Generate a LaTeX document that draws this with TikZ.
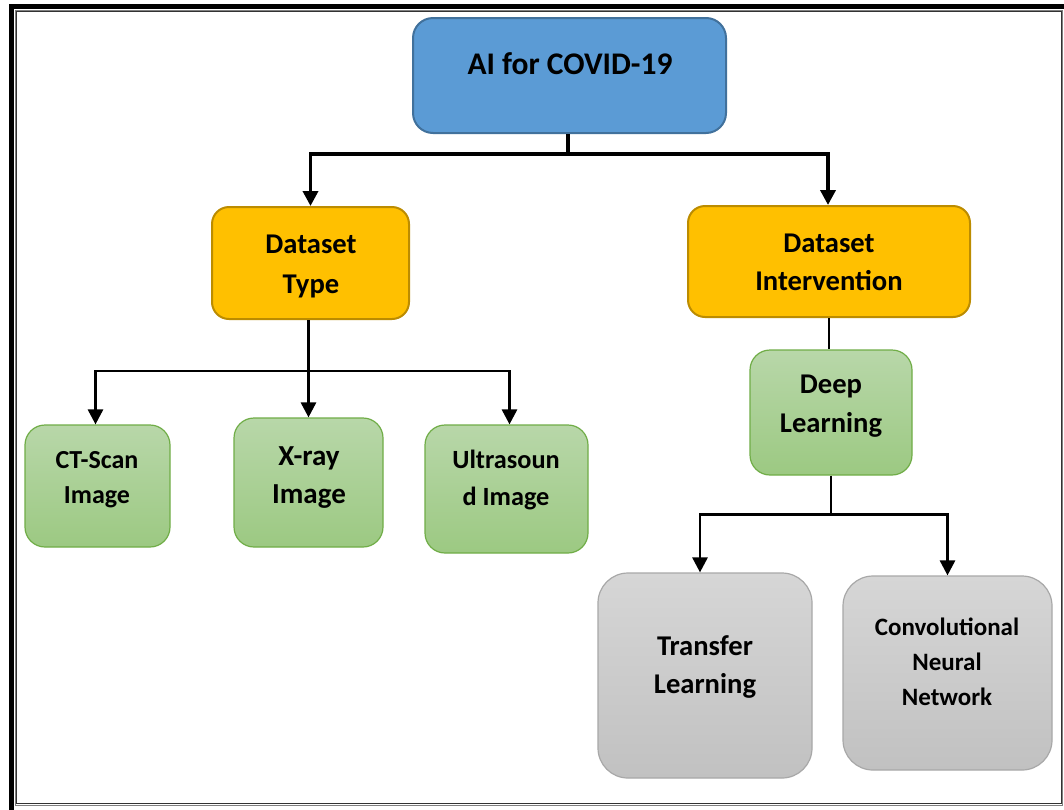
\documentclass[tikz,border=0pt]{standalone}
\usepackage{fontspec}
\setmainfont{Carlito}
\usetikzlibrary{arrows.meta,calc}

\definecolor{titleblue}{HTML}{5B9BD5}
\definecolor{titleedge}{HTML}{41719C}
\definecolor{gold}{HTML}{FFC000}
\definecolor{goldedge}{HTML}{BC8C00}
\definecolor{greentop}{RGB}{184,215,169}
\definecolor{greenbot}{RGB}{156,201,130}
\definecolor{greenedge}{HTML}{70AD47}
\definecolor{graytop}{RGB}{214,214,214}
\definecolor{graybot}{RGB}{193,193,193}
\definecolor{grayedge}{RGB}{168,168,168}

% fixed-height strut so every text line has the same extent
\newcommand\lnstrut{\rule[-0.3em]{0pt}{1.1em}}

\tikzset{
  box/.style={rectangle, inner sep=0pt},
  bluebox/.style={box, fill=titleblue, draw=titleedge, line width=2pt, rounded corners=20pt},
  goldbox/.style={box, fill=gold, draw=goldedge, line width=2pt, rounded corners=17pt},
  greenbox/.style={box, top color=greentop, bottom color=greenbot, draw=greenedge, line width=1.2pt, rounded corners=20pt},
  graybox/.style={box, top color=graytop, bottom color=graybot, draw=grayedge, line width=1.2pt, rounded corners=30pt},
  lbl/.style={inner sep=0pt, align=center},
  link/.style={line width=3.6pt, line join=miter},
  arr/.style={link, -{Triangle[width=15pt,length=15pt]}},
  link2/.style={line width=2.8pt, line join=miter},
  arr2/.style={link2, -{Triangle[width=15pt,length=15pt]}},
}

\begin{document}
\begin{tikzpicture}[x=1pt, y=-1pt]
\useasboundingbox (0,0) rectangle (1064,809);
\clip (0,0) rectangle (1064,809);
\fill[white] (0,0) rectangle (1064,809);

% page frame: heavy outer rule and thin inner rule
\draw[line width=5pt] (11.5,6.5) rectangle (1080,830);
\draw[line width=1pt, gray] (15.2,10.2) rectangle (1062.8,805);
\draw[line width=1.3pt, black!80] (16.8,11.6) rectangle (1061.3,803.4);

% boxes
\node[bluebox,  minimum width=313pt, minimum height=115pt] (ai) at (569.5,75.5) {};
\node[goldbox,  minimum width=197pt, minimum height=112pt] (dt) at (310.5,263) {};
\node[goldbox,  minimum width=282pt, minimum height=111pt] (di) at (829,261.5) {};
\node[greenbox, minimum width=145pt, minimum height=122pt] (ct) at (97.5,486) {};
\node[greenbox, minimum width=149pt, minimum height=129pt] (xr) at (308.5,482.5) {};
\node[greenbox, minimum width=163pt, minimum height=128pt] (us) at (506.5,489) {};
\node[greenbox, minimum width=162pt, minimum height=125pt] (dl) at (831,412.5) {};
\node[graybox,  minimum width=214pt, minimum height=205pt] (tl) at (705,675.5) {};
\node[graybox,  minimum width=209pt, minimum height=194pt] (cn) at (947.5,673) {};

% labels
\node[lbl, font=\bfseries\fontsize{31.5}{38}\selectfont] (ait) at (570,67.1) {\lnstrut AI for COVID-19};
\node[lbl, font=\bfseries\fontsize{28.6}{40}\selectfont] (dtt) at (311,265.9) {\lnstrut Dataset\\\lnstrut Type};
\node[lbl, font=\bfseries\fontsize{28.6}{38}\selectfont] (dit) at (829,263.9) {\lnstrut Dataset\\\lnstrut Intervention};
\node[lbl, font=\bfseries\fontsize{26}{35}\selectfont] (ctt) at (97,479) {\lnstrut CT-Scan\\\lnstrut Image};
\node[lbl, font=\bfseries\fontsize{29}{38}\selectfont] (xrt) at (309,476.8) {\lnstrut X-ray\\\lnstrut Image};
\node[lbl, font=\bfseries\fontsize{26.3}{37}\selectfont] (ust) at (506,480.9) {\lnstrut Ultrasoun\\\lnstrut d Image};
\node[lbl, font=\bfseries\fontsize{28.6}{39}\selectfont] (dlt) at (831,405.4) {\lnstrut Deep\\\lnstrut Learning};
\node[lbl, font=\bfseries\fontsize{28.6}{38}\selectfont] (tlt) at (705,666.9) {\lnstrut Transfer\\\lnstrut Learning};
\node[lbl, font=\bfseries\fontsize{25}{35}\selectfont] (cnt) at (947,663.8) {\lnstrut Convolutional\\\lnstrut Neural\\\lnstrut Network};

% connectors
\coordinate (j1) at ($(ai.south)+(-1.5,20)$);
\draw[link] ([xshift=-1.5pt]ai.south) -- (j1);
\draw[arr] (j1) -| (dt.north);
\draw[arr] (j1) -| ([xshift=-1pt]di.north);

\coordinate (j2) at ($(dt.south)+(-2,51)$);
\draw[link2] ([xshift=-2pt]dt.south) -- (j2);
\draw[arr2] (j2) -| ([xshift=-2pt]ct.north);
\draw[arr2] (j2) -- (xr.north -| j2);
\draw[arr2] (j2) -| ([xshift=3pt]us.north);

\draw[link2] (di.south) -- (di.south |- dl.north);

\coordinate (j3) at ($(dl.south)+(0,39)$);
\draw[link2] (dl.south) -- (j3);
\draw[arr2] (j3) -| ([xshift=-5pt]tl.north);
\draw[arr2] (j3) -| (cn.north);
\end{tikzpicture}
\end{document}
